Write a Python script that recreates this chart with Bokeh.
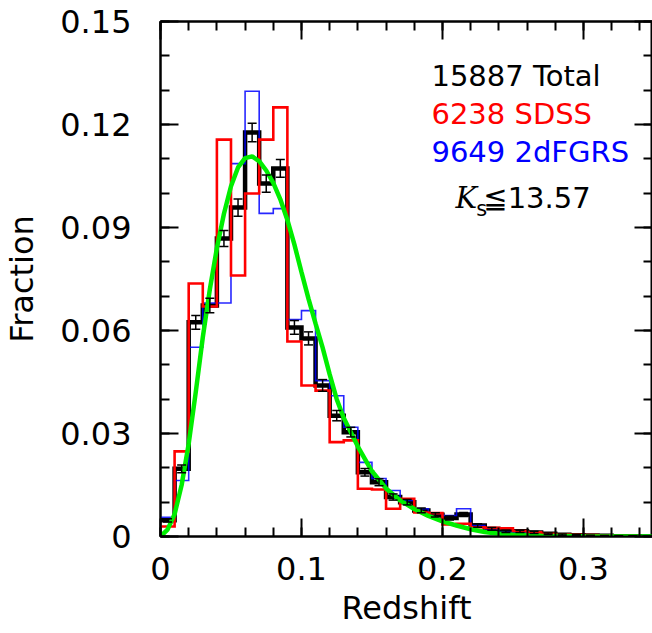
from bokeh.plotting import figure
from bokeh.models import (LinearAxis, FixedTicker, Range1d, Label, Whisker,
                          ColumnDataSource, TeeHead)
from bokeh.embed import file_html
from bokeh.resources import INLINE

# ---------------- data ----------------
bin_width = 0.01
bin_lo = [0.00, 0.01, 0.02, 0.03, 0.04, 0.05, 0.06, 0.07, 0.08, 0.09,
          0.10, 0.11, 0.12, 0.13, 0.14, 0.15, 0.16, 0.17, 0.18, 0.19,
          0.20, 0.21, 0.22, 0.23, 0.24, 0.25, 0.26, 0.27, 0.28, 0.29,
          0.30, 0.31, 0.32, 0.33, 0.34]

total = [0.0047, 0.0197, 0.0624, 0.0673, 0.0868, 0.0958, 0.1177, 0.1028, 0.1072, 0.0609,
         0.0577, 0.0440, 0.0352, 0.0304, 0.0187, 0.0158, 0.0115, 0.0100, 0.0076, 0.0063,
         0.0054, 0.0064, 0.0032, 0.0022, 0.0015, 0.0015, 0.0012, 0.0008, 0.0005, 0.0004,
         0.0003, 0.0002, 0.0001, 0.0001, 0.0000]
total_err = [0.0005, 0.0011, 0.0020, 0.0021, 0.0023, 0.0025, 0.0027, 0.0025, 0.0026, 0.0020,
             0.0019, 0.0017, 0.0015, 0.0014, 0.0011, 0.0010, 0.0009, 0.0008, 0.0007, 0.0006,
             0.0006, 0.0006, 0.0005, 0.0004, 0.0003, 0.0003, 0.0003, 0.0002, 0.0002, 0.0002,
             0.0001, 0.0001, 0.0001, 0.0001, 0.0000]
sdss = [0.0029, 0.0248, 0.0737, 0.0670, 0.1156, 0.0760, 0.0999, 0.1156, 0.1250, 0.0568,
        0.0440, 0.0425, 0.0275, 0.0280, 0.0139, 0.0137, 0.0081, 0.0110, 0.0070, 0.0068,
        0.0035, 0.0037, 0.0027, 0.0025, 0.0024, 0.0016, 0.0012, 0.0008, 0.0006, 0.0005,
        0.0004, 0.0003, 0.0001, 0.0001, 0.0000]
twodf = [0.0056, 0.0163, 0.0551, 0.0680, 0.0680, 0.1086, 0.1297, 0.0941, 0.0955, 0.0632,
         0.0658, 0.0454, 0.0410, 0.0318, 0.0216, 0.0169, 0.0134, 0.0105, 0.0081, 0.0067,
         0.0061, 0.0081, 0.0032, 0.0022, 0.0012, 0.0012, 0.0010, 0.0008, 0.0004, 0.0003,
         0.0002, 0.0001, 0.0001, 0.0000, 0.0000]

fit_z = [0.000, 0.005, 0.010, 0.015, 0.020, 0.025, 0.030, 0.035, 0.040, 0.045,
         0.050, 0.055, 0.060, 0.065, 0.070, 0.075, 0.080, 0.085, 0.090, 0.095,
         0.100, 0.105, 0.110, 0.115, 0.120, 0.125, 0.130, 0.140, 0.150, 0.160,
         0.170, 0.180, 0.190, 0.200, 0.210, 0.220, 0.230, 0.240, 0.250, 0.270,
         0.300, 0.350]
fit_f = [0.0000, 0.0020, 0.0065, 0.0150, 0.0270, 0.0420, 0.0580, 0.0720, 0.0840, 0.0940,
         0.1020, 0.1075, 0.1102, 0.1107, 0.1093, 0.1066, 0.1030, 0.0982, 0.0922, 0.0850,
         0.0770, 0.0692, 0.0620, 0.0550, 0.0472, 0.0400, 0.0345, 0.0262, 0.0190, 0.0140,
         0.0105, 0.0080, 0.0060, 0.0044, 0.0032, 0.0021, 0.0013, 0.0008, 0.0005, 0.0002,
         0.00005, 0.0000]

x_ticks = [0, 0.1, 0.2, 0.3]
x_tick_labels = ["0", "0.1", "0.2", "0.3"]
y_ticks = [0, 0.03, 0.06, 0.09, 0.12, 0.15]
y_tick_labels = ["0", "0.03", "0.06", "0.09", "0.12", "0.15"]

legend_lines = ["15887 Total", "6238 SDSS", "9649 2dFGRS"]
legend_colors = ["black", "red", "blue"]

# ---------------- figure ----------------
FONT = "DejaVu Sans"
p = figure(width=652, height=633, x_range=Range1d(0, 0.349), y_range=Range1d(0, 0.15),
           output_backend="svg", toolbar_location=None,
           min_border_left=160, min_border_right=0, min_border_top=21, min_border_bottom=97)
p.grid.visible = False
p.outline_line_color = "black"
p.outline_line_width = 2
p.background_fill_color = "white"
p.border_fill_color = "white"

x_minor = [round(0.02 * i, 2) for i in range(18)]
y_minor = [round(0.01 * i, 2) for i in range(16)]


def style_axis(ax, ticks, minor, labels, show_labels):
    ax.ticker = FixedTicker(ticks=ticks, minor_ticks=minor)
    ax.axis_line_width = 2
    ax.axis_line_color = "black"
    ax.major_tick_line_width = 2
    ax.minor_tick_line_width = 2
    ax.major_tick_in = 18
    ax.major_tick_out = 0
    ax.minor_tick_in = 9
    ax.minor_tick_out = 0
    ax.major_label_text_font = FONT
    ax.major_label_text_color = "black"
    if show_labels:
        ax.major_label_text_font_size = "32px"
        ax.major_label_overrides = {t: l for t, l in zip(ticks, labels)}
    else:
        ax.major_label_text_font_size = "1px"
        ax.major_label_overrides = {t: "" for t in ticks}
        ax.major_label_standoff = 0


style_axis(p.xaxis[0], x_ticks, x_minor, x_tick_labels, True)
style_axis(p.yaxis[0], y_ticks, y_minor, y_tick_labels, True)
p.xaxis[0].major_label_standoff = 20
p.yaxis[0].major_label_standoff = 29

p.xaxis[0].axis_label = "Redshift"
p.yaxis[0].axis_label = "Fraction"
for ax in (p.xaxis[0], p.yaxis[0]):
    ax.axis_label_text_font = FONT
    ax.axis_label_text_font_size = "32px"
    ax.axis_label_text_font_style = "normal"
    ax.axis_label_text_color = "black"
p.xaxis[0].axis_label_standoff = 6
p.yaxis[0].axis_label_standoff = 16

top_ax = LinearAxis()
right_ax = LinearAxis()
style_axis(top_ax, x_ticks, x_minor, x_tick_labels, False)
style_axis(right_ax, y_ticks, y_minor, y_tick_labels, False)
p.add_layout(top_ax, "above")
p.add_layout(right_ax, "right")

# ---------------- histograms ----------------
edges = bin_lo + [bin_lo[-1] + bin_width]


def closed(vals):
    return vals + [vals[-1]]


p.step(edges, closed(total), mode="after", line_color="black", line_width=4.5,
       line_join="miter")
p.step(edges, closed(twodf), mode="after", line_color="blue", line_width=1.6,
       line_alpha=0.85, line_join="miter")
p.step(edges, closed(sdss), mode="after", line_color="red", line_width=2.6,
       line_join="miter")

centers = [b + bin_width / 2 for b in bin_lo]
err_src = ColumnDataSource(data=dict(
    x=centers,
    upper=[v + e for v, e in zip(total, total_err)],
    lower=[v - e for v, e in zip(total, total_err)],
))
p.add_layout(Whisker(source=err_src, base="x", upper="upper", lower="lower",
                     line_color="black", line_width=1.5, level="annotation",
                     upper_head=TeeHead(size=9, line_width=1.5, line_color="black"),
                     lower_head=TeeHead(size=9, line_width=1.5, line_color="black")))

p.line(fit_z, fit_f, line_color="#00ee00", line_width=4.5)

# ---------------- annotations ----------------
for i, (txt, col) in enumerate(zip(legend_lines, legend_colors)):
    p.add_layout(Label(x=0.1922, y=0.1342 - i * 0.0111, text=txt, text_color=col,
                       text_font=FONT, text_font_size="29px",
                       text_baseline="alphabetic"))

p.add_layout(Label(x=0.2092, y=0.0985, text="K", text_color="black",
                   text_font="DejaVu Serif", text_font_style="italic",
                   text_font_size="29px", text_baseline="alphabetic"))
p.add_layout(Label(x=0.2240, y=0.0955, text="s", text_color="black",
                   text_font=FONT, text_font_size="21px", text_baseline="alphabetic"))
p.add_layout(Label(x=0.2290, y=0.0985, text="\u226613.57", text_color="black",
                   text_font=FONT, text_font_size="29px", text_baseline="alphabetic"))

open("out.html", "w").write(file_html(p, INLINE))
